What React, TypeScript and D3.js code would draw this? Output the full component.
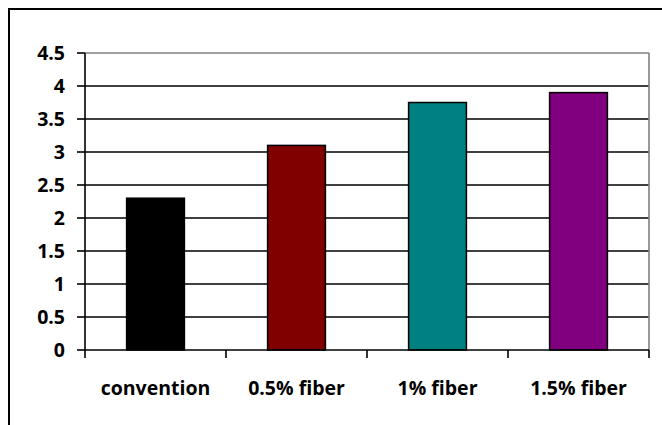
import React from "react";
import * as d3 from "d3";

const categories = ["convention", "0.5% fiber", "1% fiber", "1.5% fiber"];
const values = [2.3, 3.1, 3.75, 3.9];
const colors = ["#000000", "#800000", "#008080", "#800080"];
const yTicks = [0, 0.5, 1, 1.5, 2, 2.5, 3, 3.5, 4, 4.5];

export default function App() {
  const W = 662, H = 425;
  const left = 85, right = 649, top = 53, bottom = 350;
  const x = d3.scaleBand<string>().domain(categories).range([left, right]).paddingInner(0.59).paddingOuter(0.295);
  const xb = d3.scaleBand<string>().domain(categories).range([left, right]);
  const y = d3.scaleLinear().domain([0, 4.5]).range([bottom, top]);
  const font = "'Open Sans', sans-serif";
  return (
    <svg width={W} height={H} style={{ position: "absolute", left: 0, top: 0, background: "#fff" }}>
      <rect x={9} y={9} width={W + 20} height={H + 20} fill="#fff" stroke="#000" strokeWidth={2} />
      {yTicks.filter(t => t > 0 && t < 4.5).map(t => (
        <line key={t} x1={left} x2={right} y1={y(t)} y2={y(t)} stroke="#000" strokeWidth={1.6} />
      ))}
      <line x1={left} x2={right} y1={y(4.5)} y2={y(4.5)} stroke="#808080" strokeWidth={1.6} />
      <line x1={right} x2={right} y1={y(4.5)} y2={bottom} stroke="#808080" strokeWidth={1.6} />
      {categories.map((c, i) => (
        <rect key={c} x={x(c)} y={y(values[i])} width={x.bandwidth()} height={bottom - y(values[i])}
          fill={colors[i]} stroke="#000" strokeWidth={1.5} />
      ))}
      <line x1={left} x2={left} y1={top} y2={bottom} stroke="#000" strokeWidth={1.6} />
      <line x1={left} x2={right} y1={bottom} y2={bottom} stroke="#000" strokeWidth={1.6} />
      {yTicks.map(t => (
        <g key={t}>
          <line x1={left - 8} x2={left} y1={y(t)} y2={y(t)} stroke="#000" strokeWidth={1.6} />
          <text x={left - 20} y={y(t)} dy="0.36em" textAnchor="end" fontFamily={font} fontWeight="bold" fontSize={19.5}>{t}</text>
        </g>
      ))}
      {categories.map((c, i) => (
        <line key={"t" + c} x1={xb(c)} x2={xb(c)} y1={bottom} y2={bottom + 8} stroke="#000" strokeWidth={1.6} />
      ))}
      <line x1={right} x2={right} y1={bottom} y2={bottom + 8} stroke="#000" strokeWidth={1.6} />
      {categories.map(c => (
        <text key={"l" + c} x={(xb(c) as number) + xb.bandwidth() / 2} y={395} textAnchor="middle"
          fontFamily={font} fontWeight="bold" fontSize={19.5}>{c}</text>
      ))}
    </svg>
  );
}
